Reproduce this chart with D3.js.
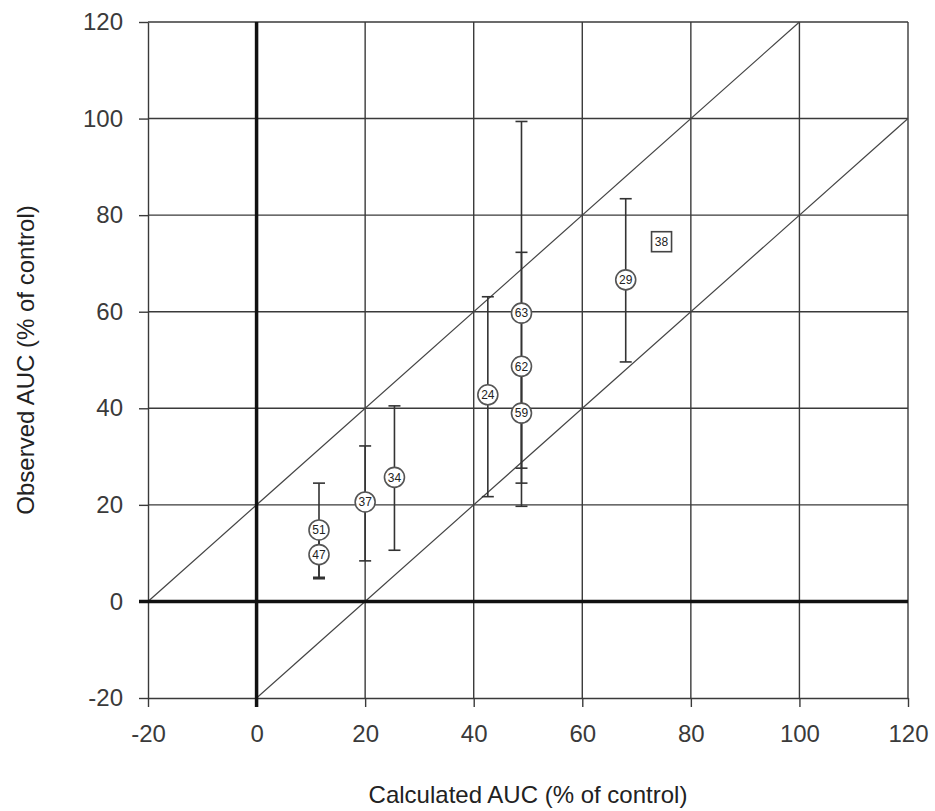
<!DOCTYPE html>
<html>
<head>
<meta charset="utf-8">
<script src="https://cdn.jsdelivr.net/npm/d3@7"></script>
<style>
  body { margin: 0; background: #fff; }
  svg text { font-family: "Liberation Sans", Arial, sans-serif; }
</style>
</head>
<body>
<svg id="auc" width="935" height="811"></svg>
<script>
// study labels, calculated (x) and observed (y) AUC, error bar ends
var labels = ["51", "47", "37", "34", "24", "63", "62", "59", "29", "38"];
var calcAUC = [11.5, 11.5, 20, 25.4, 42.6, 48.8, 48.8, 48.8, 68, 74.6];
var obsAUC = [14.8, 9.7, 20.6, 25.7, 42.8, 59.7, 48.7, 39.0, 66.6, 74.5];
var errLow = [5.0, 4.7, 8.4, 10.6, 21.7, 19.7, 24.5, 27.6, 49.6, null];
var errHigh = [24.5, 14.5, 32.2, 40.5, 63.1, 99.4, 72.3, 50.4, 83.4, null];
var squareMarks = ["38"];
var tickValues = [-20, 0, 20, 40, 60, 80, 100, 120];
var bandOffsets = [20, -20]; // y = x + offset

var svg = d3.select("#auc"),
    margin = {top: 22, right: 27, bottom: 113, left: 148},
    width = +svg.attr("width") - margin.left - margin.right,
    height = +svg.attr("height") - margin.top - margin.bottom,
    g = svg.append("g").attr("transform", "translate(" + margin.left + "," + margin.top + ")");

var x = d3.scaleLinear().domain([-20, 120]).range([0, width]);
var y = d3.scaleLinear().domain([-20, 120]).range([height, 0]);

var data = labels.map(function(d, i) {
  return {label: d, x: calcAUC[i], y: obsAUC[i], lo: errLow[i], hi: errHigh[i]};
});

var gridColor = "#3a3a3a";

// grid
g.append("g").selectAll("line")
  .data(tickValues.filter(function(d) { return d !== -20 && d !== 0; }))
  .enter().append("line")
    .attr("x1", function(d) { return x(d); }).attr("x2", function(d) { return x(d); })
    .attr("y1", 0).attr("y2", height)
    .attr("stroke", gridColor).attr("stroke-width", 1.4);

g.append("g").selectAll("line")
  .data(tickValues.filter(function(d) { return d !== -20 && d !== 0; }))
  .enter().append("line")
    .attr("y1", function(d) { return y(d); }).attr("y2", function(d) { return y(d); })
    .attr("x1", 0).attr("x2", width)
    .attr("stroke", gridColor).attr("stroke-width", 1.4);

// axes (plain hyphen minus like the original)
var fmt = function(d) { return String(d); };
var yAxis = g.append("g")
    .call(d3.axisLeft(y).tickValues(tickValues).tickFormat(fmt).tickSize(9).tickSizeOuter(0).tickPadding(16));
var xAxis = g.append("g")
    .attr("transform", "translate(0," + height + ")")
    .call(d3.axisBottom(x).tickValues(tickValues).tickFormat(fmt).tickSize(9).tickSizeOuter(0).tickPadding(18));

[xAxis, yAxis].forEach(function(a) {
  a.select(".domain").attr("stroke", gridColor).attr("stroke-width", 1.4);
  a.selectAll(".tick line").attr("stroke", gridColor).attr("stroke-width", 1.4);
  a.selectAll(".tick text")
    .attr("font-size", 24)
    .attr("fill", "#3a3a3a")
    .style("font-family", "'Liberation Sans', Arial, sans-serif");
});

// diagonal reference lines y = x +/- 20, clipped to the plot
g.append("g").selectAll("line")
  .data(bandOffsets)
  .enter().append("line")
    .attr("x1", function(d) { return x(Math.max(-20, -20 - d)); })
    .attr("y1", function(d) { return y(Math.max(-20, -20 - d) + d); })
    .attr("x2", function(d) { return x(Math.min(120, 120 - d)); })
    .attr("y2", function(d) { return y(Math.min(120, 120 - d) + d); })
    .attr("stroke", "#444").attr("stroke-width", 1.2);

// thick zero lines
g.append("line")
  .attr("x1", x(0)).attr("x2", x(0))
  .attr("y1", 0).attr("y2", height + 9)
  .attr("stroke", "#111").attr("stroke-width", 3.5);
g.append("line")
  .attr("x1", -9).attr("x2", width)
  .attr("y1", y(0)).attr("y2", y(0))
  .attr("stroke", "#111").attr("stroke-width", 3.5);

// error bars
var bars = g.append("g").selectAll("g")
  .data(data.filter(function(d) { return d.lo !== null; }))
  .enter().append("g")
    .attr("stroke", "#333").attr("stroke-width", 1.6);

bars.append("line")
  .attr("x1", function(d) { return x(d.x); }).attr("x2", function(d) { return x(d.x); })
  .attr("y1", function(d) { return y(d.lo); }).attr("y2", function(d) { return y(d.hi); });
bars.append("line")
  .attr("x1", function(d) { return x(d.x) - 6; }).attr("x2", function(d) { return x(d.x) + 6; })
  .attr("y1", function(d) { return y(d.lo); }).attr("y2", function(d) { return y(d.lo); });
bars.append("line")
  .attr("x1", function(d) { return x(d.x) - 6; }).attr("x2", function(d) { return x(d.x) + 6; })
  .attr("y1", function(d) { return y(d.hi); }).attr("y2", function(d) { return y(d.hi); });

// markers
var marks = g.append("g").selectAll("g")
  .data(data)
  .enter().append("g")
    .attr("transform", function(d) { return "translate(" + x(d.x) + "," + y(d.y) + ")"; });

marks.filter(function(d) { return squareMarks.indexOf(d.label) < 0; })
  .append("circle")
    .attr("r", 10)
    .attr("fill", "#fff").attr("stroke", "#555").attr("stroke-width", 1.6);

marks.filter(function(d) { return squareMarks.indexOf(d.label) >= 0; })
  .append("rect")
    .attr("x", -10).attr("y", -10).attr("width", 20).attr("height", 20)
    .attr("fill", "#fff").attr("stroke", "#444").attr("stroke-width", 1.6);

marks.append("text")
  .attr("text-anchor", "middle")
  .attr("dy", "0.36em")
  .attr("font-size", 12)
  .attr("fill", "#222")
  .text(function(d) { return d.label; });

// axis titles
svg.append("text")
  .attr("x", margin.left + x(50))
  .attr("y", 803)
  .attr("text-anchor", "middle")
  .attr("font-size", 24)
  .attr("fill", "#222")
  .text("Calculated AUC (% of control)");

svg.append("text")
  .attr("transform", "translate(34," + (margin.top + y(50)) + ") rotate(-90)")
  .attr("text-anchor", "middle")
  .attr("font-size", 24)
  .attr("fill", "#222")
  .text("Observed AUC (% of control)");
</script>
</body>
</html>
